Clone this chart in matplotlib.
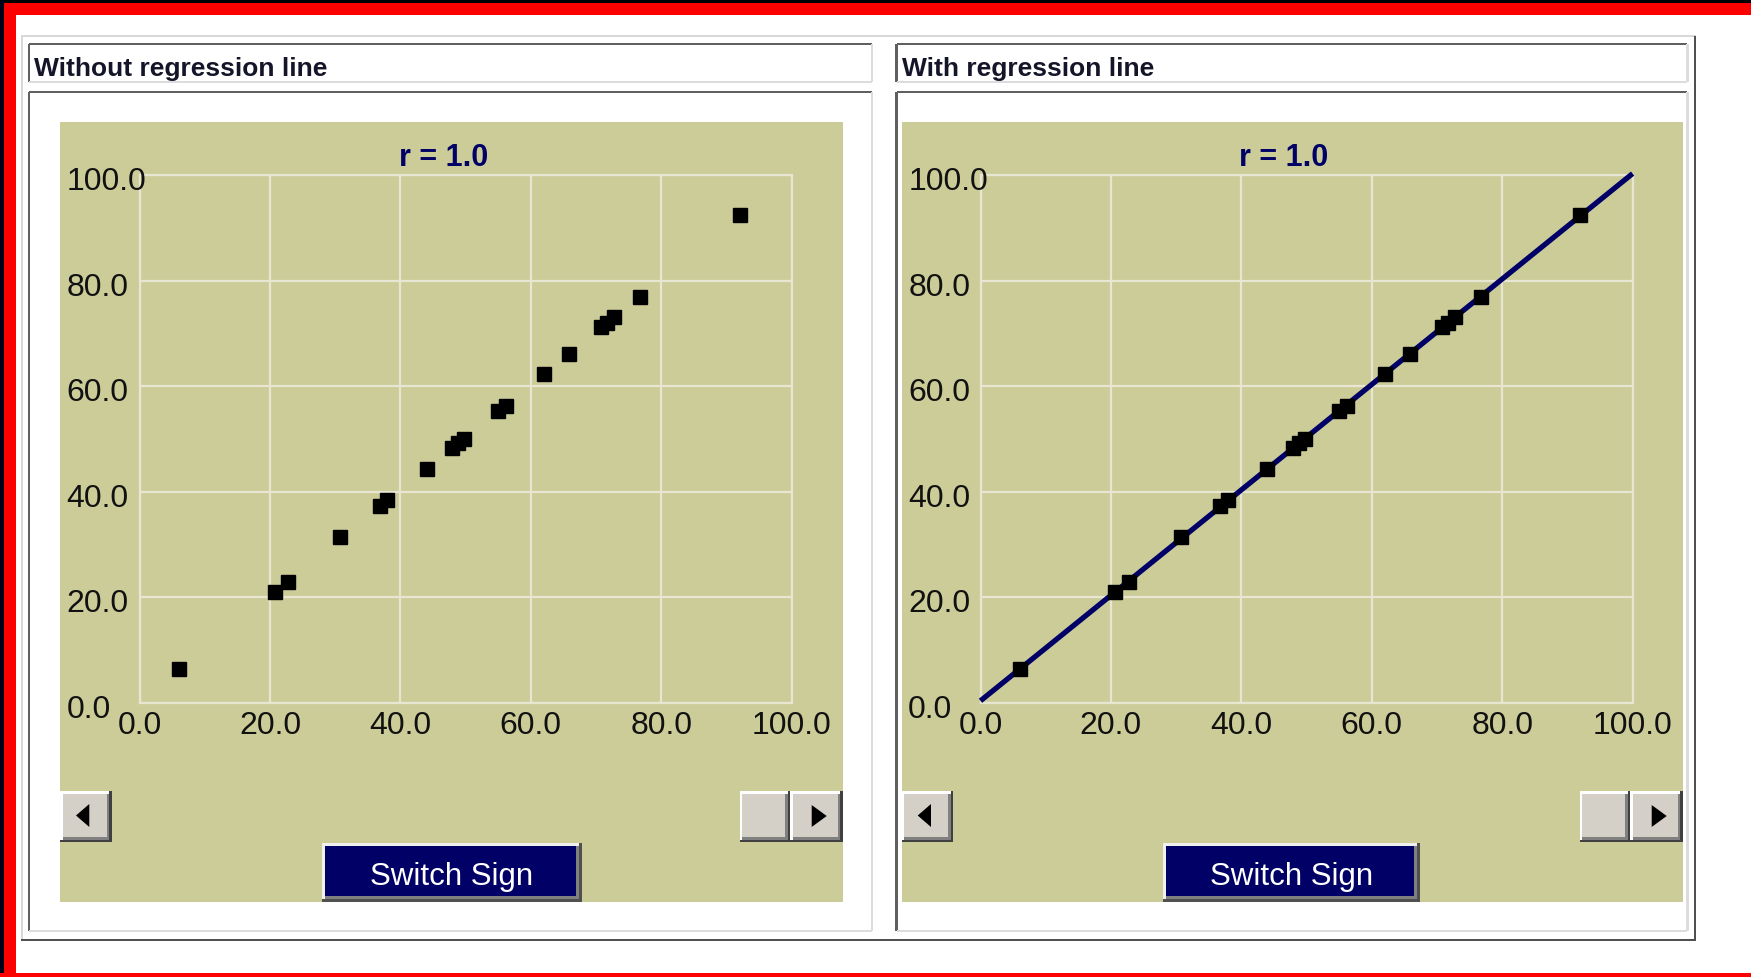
import numpy as np
import matplotlib
matplotlib.use("Agg")
import matplotlib.pyplot as plt
from matplotlib.patches import Rectangle, Polygon
from matplotlib.ticker import FormatStrFormatter, NullFormatter
from matplotlib.transforms import ScaledTranslation

# ---------------- data ----------------
x_vals = [6.0, 20.7, 22.8, 30.8, 36.8, 38.0, 44.0, 47.9, 48.8, 49.7,
          55.0, 56.2, 62.0, 65.9, 70.7, 71.7, 72.8, 76.7, 92.0]
y_vals = [6.3, 20.9, 22.9, 31.4, 37.3, 38.4, 44.3, 48.3, 49.2, 49.9,
          55.3, 56.2, 62.2, 66.1, 71.1, 72.0, 73.0, 76.9, 92.4]
ticks = [0, 20, 40, 60, 80, 100]
panel_titles = ["Without regression line", "With regression line"]
r_label = "r = 1.0"
button_label = "Switch Sign"

# ---------------- figure ----------------
W, H = 1751, 978
DPI = 100
fig = plt.figure(figsize=(W / DPI, H / DPI), dpi=DPI)
fig.patch.set_facecolor("white")
FONT = "Liberation Sans"

bg = fig.add_axes([0, 0, 1, 1])
bg.set_xlim(0, W)
bg.set_ylim(H, 0)
bg.axis("off")

KHAKI = "#CCCC99"
NAVY = "#000066"
GRID = "#E6E6D3"
FACE = "#D4D0C8"


def rect(x0, y0, x1, y1, color, z=1):
    bg.add_patch(Rectangle((x0, y0), x1 - x0, y1 - y0, facecolor=color,
                           edgecolor="none", zorder=z))


def hline(x0, x1, y, color, w, z=2):
    rect(x0, y - w / 2, x1, y + w / 2, color, z)


def vline(x, y0, y1, color, w, z=2):
    rect(x - w / 2, y0, x + w / 2, y1, color, z)


# outer screen frame
rect(0, 0, W, 4, "black")
rect(0, 4, W, 16, "#FF0000")
rect(0, 0, 4, H, "#000018")
rect(4, 4, 16, H, "#FF0000")
rect(0, 974, W, H, "#FF0000")

# outer etched panel
hline(21, 1696, 37, "#D8D8D8", 2)
vline(22, 37, 942, "#D8D8D8", 2)
vline(1695, 37, 942, "#505050", 2.5)
hline(21, 1696, 941, "#505050", 2.5)


def sunken_box(x0, y0, x1, y1):
    hline(x0, x1, y0, "#606060", 2.5)
    vline(x0, y0, y1, "#606060", 2.5)
    hline(x0, x1, y1, "#DCDCDC", 2.5)
    vline(x1, y0, y1, "#DCDCDC", 2.5)


def bevel_button(x0, y0, x1, y1, face, hi="#FFFFFF", dark="#404040", mid="#808080", w=2.5):
    rect(x0, y0, x1, y1, face, 3)
    rect(x0, y0, x1, y0 + w, hi, 4)
    rect(x0, y0, x0 + w, y1, hi, 4)
    rect(x0, y1 - w, x1, y1, dark, 4)
    rect(x1 - w, y0, x1, y1, dark, 4)
    rect(x0 + w, y1 - 2 * w, x1 - w, y1 - w, mid, 4)
    rect(x1 - 2 * w, y0 + w, x1 - w, y1 - w, mid, 4)


def tri(points):
    bg.add_patch(Polygon(points, closed=True, facecolor="black",
                         edgecolor="none", zorder=5))


panels = [
    dict(box_x0=29, box_x1=872, kh_x0=60, kh_x1=843.3, ax_x0=139.6, ax_x1=791.7,
         title_cx=444, btn_x0=321.7, btn_x1=581.7),
    dict(box_x0=896.7, box_x1=1687.3, kh_x0=901.7, kh_x1=1683.3, ax_x0=980.5, ax_x1=1632.6,
         title_cx=1284, btn_x0=1163.4, btn_x1=1420.4),
]
AX_TOP, AX_BOT = 176.0, 703.5

for i, p in enumerate(panels):
    # title box and panel box
    sunken_box(p["box_x0"], 45, p["box_x1"], 83)
    sunken_box(p["box_x0"], 93, p["box_x1"], 932)
    bg.text(p["box_x0"] + 5, 76, panel_titles[i], fontsize=19, fontweight="bold",
            family=FONT, color="#15152A", ha="left", va="baseline", zorder=6)
    # khaki canvas
    rect(p["kh_x0"], 122.7, p["kh_x1"], 903, KHAKI, 1.5)
    # r label
    bg.text(p["title_cx"], 165.5, r_label, fontsize=22, fontweight="bold",
            family=FONT, color=NAVY, ha="center", va="baseline", zorder=6)
    # scrollbar buttons
    lx0 = p["kh_x0"]
    bevel_button(lx0, 792, lx0 + 51.7, 843, FACE)
    tri([(lx0 + 16, 816.5), (lx0 + 29.3, 805), (lx0 + 29.3, 828)])
    rx1 = p["kh_x1"] - 0.6
    bevel_button(rx1 - 103, 792, rx1 - 52.7, 843, FACE)
    bevel_button(rx1 - 52.7, 792, rx1, 843, FACE)
    tri([(rx1 - 16, 817), (rx1 - 31, 806), (rx1 - 31, 828)])
    # Switch Sign button
    bx0, bx1 = p["btn_x0"], p["btn_x1"]
    bevel_button(bx0, 844, bx1, 902.7, NAVY, hi="#F0F0F0", dark="#505050",
                 mid="#808080", w=3)
    bg.text((bx0 + bx1) / 2, 885, button_label, fontsize=22.5, family=FONT,
            color="white", ha="center", va="baseline", zorder=6)

    # ---------- plot axes ----------
    ax = fig.add_axes([p["ax_x0"] / W, 1 - AX_BOT / H,
                       (p["ax_x1"] - p["ax_x0"]) / W, (AX_BOT - AX_TOP) / H])
    ax.set_facecolor("none")
    ax.set_xlim(0, 100)
    ax.set_ylim(0, 100)
    ax.set_xticks(ticks)
    ax.set_yticks(ticks)
    ax.xaxis.set_major_formatter(FormatStrFormatter("%.1f"))
    ax.yaxis.set_major_formatter(NullFormatter())
    ax.grid(True, color=GRID, lw=1.6)
    ax.set_axisbelow(True)
    for s in ax.spines.values():
        s.set_color(GRID)
        s.set_linewidth(1.6)
    ax.tick_params(axis="both", length=0, labelsize=23, labelcolor="#111111")
    ax.tick_params(axis="x", pad=5.4)
    for lab in ax.get_xticklabels():
        lab.set_family(FONT)

    # y tick labels: left-aligned, placed via the y-axis transform
    dx = (p["ax_x0"] - (p["kh_x0"] + 6.5)) / DPI
    ytr = ax.get_yaxis_transform() + ScaledTranslation(-dx, -3.0 / DPI, fig.dpi_scale_trans)
    for v in ticks:
        ax.text(0, v, "%.1f" % v, transform=ytr, fontsize=23, family=FONT,
                color="#111111", ha="left", va="center_baseline", clip_on=False)

    if i == 1:
        slope, intercept = np.polyfit(x_vals, y_vals, 1)
        xs = np.array([0.0, 100.0])
        ax.plot(xs, intercept + slope * xs, color=NAVY, lw=3.8, zorder=3,
                clip_on=False, solid_capstyle="butt")
    ax.plot(x_vals, y_vals, linestyle="none", marker="s", ms=9.5, color="black",
            zorder=4, clip_on=False)

fig.savefig("out.png", dpi=DPI, facecolor="white")
